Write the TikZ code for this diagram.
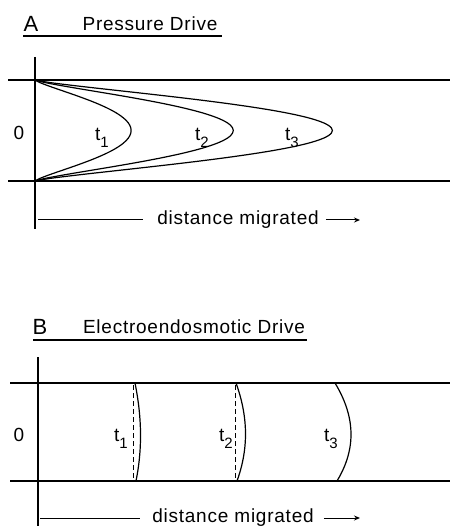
\documentclass[tikz,border=0pt]{standalone}
\usepackage{fontspec}
\usetikzlibrary{arrows.meta}
\newfontfamily\drawfont{Liberation Sans}[LetterSpace=4]
\newcommand{\tsub}[1]{t\raisebox{-7pt}{\fontsize{15}{15}\selectfont #1}}

\begin{document}
\begin{tikzpicture}[x=1pt,y=-1pt,
    wall/.style={line width=1.4pt},
    front/.style={line width=1.2pt},
    flat/.style={line width=0.8pt,dash pattern=on 5pt off 3pt},
    lbl/.style={inner sep=0pt,font=\drawfont\fontsize{19}{22}\selectfont},
    panel/.style={inner sep=0pt,font=\drawfont\fontsize{22}{25}\selectfont},
    go/.style={line width=1pt,-{Stealth[length=6pt,width=5pt]}}]
  \useasboundingbox (0,0) rectangle (450,526);
  \clip (0,0) rectangle (450,526);

  % A: pressure drive
  \node[panel] (A) at (31,24) {A};
  \node[lbl] (titleA) at (150,24) {Pressure Drive};
  \draw[line width=1.4pt] (23,36) -- (222,36);
  \draw[wall] (35,57) -- (35,229);
  \draw[wall] (8,80) -- (450,80);
  \draw[wall] (8,181) -- (450,181);
  \node[lbl] (zeroA) at (19,133) {0};
  \foreach \L/\i/\lx in {96/1/102, 198/2/202, 297/3/292}{
    \draw[front] plot[domain=-1:1,samples=41,smooth]
      ({35+\L*(abs(1-\x*\x)+0.001)^1.3},{130.5+50.5*\x});
    \node[lbl] (tA\i) at (\lx,138) {\tsub{\i}};}
  \coordinate (startA) at (38,220);
  \node[lbl] (distA) at (238,220) {distance migrated};
  \draw[line width=1pt] (startA) -- ([xshift=-14pt]distA.west);
  \coordinate (endA) at (360,220);
  \draw[go] ([xshift=7pt]distA.east) -- (endA);

  % B: electroendosmotic drive
  \node[panel] (B) at (40,327) {B};
  \node[lbl] (titleB) at (194,327) {Electroendosmotic Drive};
  \draw[line width=1.4pt] (33,340) -- (307,340);
  \draw[wall] (38,357) -- (38,530);
  \draw[wall] (10,383) -- (450,383);
  \draw[wall] (10,481) -- (450,481);
  \node[lbl] (zeroB) at (19,435) {0};
  \foreach \xt/\xb/\dx/\i/\lx in {135/136/5/1/121, 236/237/9/2/226, 335/337/15/3/331}{
    \draw[front] (\xt,383) .. controls (\xt+1.33*\dx,416) and (\xb+1.33*\dx,448) .. (\xb,481);
    \node[lbl] (tB\i) at (\lx,439) {\tsub{\i}};}
  \foreach \xd in {133,235}
    \draw[flat] (\xd,385) -- (\xd,480);
  \coordinate (startB) at (40,518);
  \node[lbl] (distB) at (233,518) {distance migrated};
  \draw[line width=1pt] (startB) -- ([xshift=-12pt]distB.west);
  \coordinate (endB) at (360,518);
  \draw[go] ([xshift=10pt]distB.east) -- (endB);
\end{tikzpicture}
\end{document}
